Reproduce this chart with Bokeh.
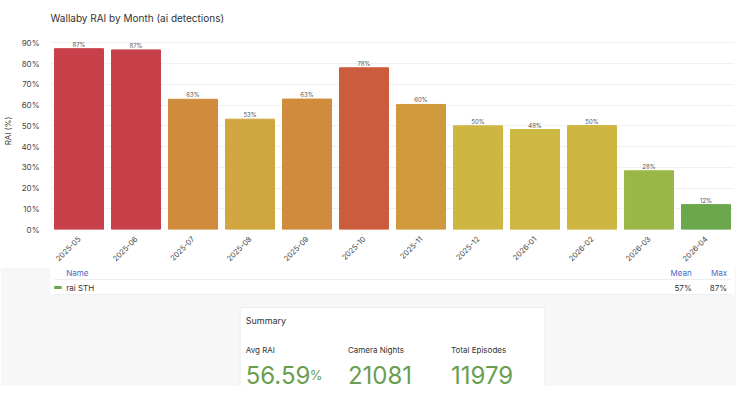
from bokeh.plotting import figure
from bokeh.layouts import column
from bokeh.models import Range1d, NumeralTickFormatter, ColumnDataSource
from bokeh.core.properties import value
from bokeh.embed import file_html
from bokeh.resources import INLINE

months = ["2025-05","2025-06","2025-07","2025-08","2025-09","2025-10","2025-11","2025-12","2026-01","2026-02","2026-03","2026-04"]
rai = [87.2, 86.6, 62.8, 53.2, 62.9, 78.0, 60.3, 50.0, 48.2, 50.1, 28.3, 12.0]
colors = ["#c8404a","#c8404a","#d08c3c","#cfa640","#d08c3c","#cc5c3e","#d0993c","#cdb642","#ccb842","#cdb642","#9ab848","#6ba84c"]
labels = [f"{round(v)}%" for v in rai]
series_name = "rai STH"
mean_val, max_val = "57%", "87%"
summary_names = ["Avg RAI", "Camera Nights", "Total Episodes"]
summary_vals = ["56.59", "21081", "11979"]

F = value("Inter")
W = 736
H1 = 267
p = figure(x_range=months, y_range=Range1d(0, 95), width=W, height=H1,
           output_backend="svg", toolbar_location=None,
           title="Wallaby RAI by Month (ai detections)",
           min_border_left=37, min_border_right=2, min_border_top=4, min_border_bottom=34)
p.title.text_font = "Inter"; p.title.text_font_size = "10px"; p.title.text_font_style = "normal"
p.title.text_color = "#333333"
p.title.standoff = 18
src = ColumnDataSource(dict(m=months, v=rai, c=colors, l=labels))
p.vbar(x="m", top="v", width=0.86, color="c", source=src)
p.text(x="m", y="v", text="l", source=src, text_font=F, text_font_size="6px",
       text_align="center", text_baseline="bottom", text_color="#555555", y_offset=-1)
p.yaxis.ticker = [0,10,20,30,40,50,60,70,80,90]
p.yaxis.formatter = NumeralTickFormatter(format="0")
p.yaxis.major_label_overrides = {i*10: f"{i*10}%" for i in range(10)}
p.yaxis.axis_label = "RAI (%)"
p.yaxis.axis_label_text_font_size = "8px"; p.yaxis.axis_label_text_font_style = "normal"
p.yaxis.axis_label_text_font = "Inter"
for ax in (p.xaxis, p.yaxis):
    ax.major_label_text_font = "Inter"; ax.major_label_text_font_size = "8px"
    ax.major_label_text_color = "#444444"
    ax.axis_line_color = None; ax.major_tick_line_color = None; ax.minor_tick_line_color = None
p.xaxis.major_label_text_font_size = "7.5px"
p.xaxis.major_label_orientation = 0.785
p.xaxis.major_label_standoff = 2
p.xgrid.grid_line_color = None
p.ygrid.grid_line_color = "#f0f0f0"
p.outline_line_color = None
p.x_range.range_padding = 0.0

H2 = 386 - H1
q = figure(x_range=Range1d(0, W), y_range=Range1d(H2, 0), width=W, height=H2,
           output_backend="svg", toolbar_location=None, min_border=0)
q.axis.visible = False; q.grid.visible = False; q.outline_line_color = None
q.background_fill_color = "#f7f7f7"; q.border_fill_color = "#f7f7f7"
q.quad(left=[0], right=[W], top=[0], bottom=[27], color="white")
q.segment(x0=[4], x1=[W-4], y0=[12], y1=[12], color="#eeeeee")
q.segment(x0=[4], x1=[W-4], y0=[27], y1=[27], color="#eeeeee")
q.text(x=[17], y=[5], text=["Name"], text_font=F, text_font_size="8px", text_color="#4a66c8", text_baseline="middle")
q.text(x=[690, 728], y=[5, 5], text=["Mean", "Max"], text_font=F, text_font_size="8px",
       text_color="#4a66c8", text_baseline="middle", text_align="right")
q.segment(x0=[4], x1=[12], y0=[20], y1=[20], color="#6ba84c", line_width=3)
q.text(x=[17], y=[20], text=[series_name], text_font=F, text_font_size="8px", text_color="#333333", text_baseline="middle")
q.text(x=[690, 728], y=[20, 20], text=[mean_val, max_val], text_font=F, text_font_size="8px",
       text_color="#333333", text_baseline="middle", text_align="right")
q.quad(left=[204], right=[532], top=[40], bottom=[H2+5], color="white", line_color="#ececec")
q.text(x=[210], y=[53], text=["Summary"], text_font=F, text_font_size="9px", text_color="#333333", text_baseline="middle")
xs = [210, 320, 431]
q.text(x=xs, y=[82]*3, text=summary_names, text_font=F, text_font_size="8px", text_color="#333333", text_baseline="middle")
q.text(x=xs, y=[116]*3, text=summary_vals, text_font=F, text_font_size="24px", text_color="#6a9e50", text_baseline="bottom")
q.text(x=[279], y=[115], text=["%"], text_font=F, text_font_size="13px", text_color="#6a9e50", text_baseline="bottom")

lay = column(p, q, spacing=0)
open("out.html", "w").write(file_html(lay, INLINE))
